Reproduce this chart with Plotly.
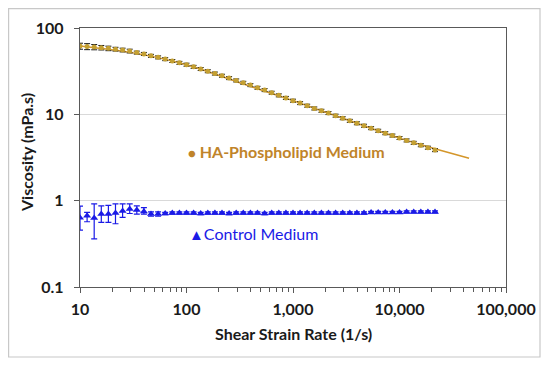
import plotly.graph_objects as go

# Shear strain rate (1/s)
shear = [10, 11.66, 13.59, 15.85, 18.48, 21.54, 25.12, 29.29, 34.15, 39.81,
         46.42, 54.12, 63.10, 73.56, 85.77, 100, 116.6, 135.9, 158.5, 184.8,
         215.4, 251.2, 292.9, 341.5, 398.1, 464.2, 541.2, 631.0, 735.6, 857.7,
         1000, 1166, 1359, 1585, 1848, 2154, 2512, 2929, 3415, 3981,
         4642, 5412, 6310, 7356, 8577, 10000, 11659, 13594, 15849, 18478, 21544]

# HA-Phospholipid medium viscosity (mPa.s)
ha_visc = [61.7, 61.0, 60.1, 59.2, 58.1, 56.9, 55.6, 54.1, 51.9, 50.1,
           47.6, 45.7, 43.6, 41.5, 39.5, 37.6, 35.5, 33.5, 31.6, 29.7,
           28.0, 26.3, 24.7, 23.2, 21.8, 20.3, 19.1, 17.8, 16.6, 15.5,
           14.4, 13.5, 12.6, 11.7, 11.0, 10.35, 9.66, 9.02, 8.41, 7.89,
           7.38, 6.92, 6.46, 6.05, 5.68, 5.32, 4.99, 4.68, 4.39, 4.11, 3.85]
ha_err_pct = [8, 8, 7, 6, 6, 5, 5, 5, 4, 4,
              4, 4, 4, 4, 4, 4, 4, 4, 4, 4,
              4, 4, 4, 4, 4, 4, 4, 4, 4, 4,
              4, 4, 4, 4, 4, 4, 4, 4, 4, 4,
              4, 4, 4, 4, 4, 4, 4, 4, 4, 4, 4]

# Fitted trend line for HA-Phospholipid medium
fit_shear = [10, 31.6, 100, 316, 1000, 3162, 10000, 20000, 45000]
fit_visc = [62.0, 51.5, 37.6, 23.2, 14.4, 8.7, 5.3, 4.1, 3.1]

# Control medium viscosity (mPa.s)
ctrl_visc = [0.635, 0.67, 0.63, 0.70, 0.70, 0.72, 0.76, 0.80, 0.78, 0.75,
             0.70, 0.70, 0.71, 0.72, 0.72, 0.72, 0.72, 0.71, 0.72, 0.72,
             0.72, 0.71, 0.72, 0.72, 0.72, 0.72, 0.71, 0.72, 0.72, 0.72,
             0.72, 0.72, 0.72, 0.72, 0.72, 0.72, 0.72, 0.72, 0.72, 0.72,
             0.72, 0.73, 0.73, 0.73, 0.73, 0.73, 0.74, 0.74, 0.74, 0.74, 0.74]
ctrl_err_plus = [0.23, 0.06, 0.29, 0.17, 0.18, 0.20, 0.16, 0.12, 0.09, 0.08,
                 0.04, 0.04] + [0.02] * 39
ctrl_err_minus = [0.18, 0.10, 0.27, 0.14, 0.14, 0.18, 0.12, 0.09, 0.08, 0.05,
                  0.04, 0.04] + [0.02] * 39

# Axis tick labels
x_tickvals = [10, 100, 1000, 10000, 100000]
x_ticktext = ["10", "100", "1,000", "10,000", "100,000"]
y_tickvals = [0.1, 1, 10, 100]
y_ticktext = ["0.1", "1", "10", "100"]

ha_err = [v * p / 100 for v, p in zip(ha_visc, ha_err_pct)]

FONT = "Lato"
HA_TEXT = "#C0842A"
HA_MARK = "#C4A032"
TREND = "#D4962A"
BLUE = "#1A1AE6"
DARK = "#1a1a1a"

# The page body has an 8px margin, so the figure starts at page (8, 8).
OFF = 8
W, H = 550 - OFF, 367 - OFF
# plot-area geometry in page pixels
L, R, T, B = 80, 506, 28, 287
PW, PH = R - L, B - T


def px(x):
    return (x - L) / PW


def py(y):
    return (B - y) / PH


fig = go.Figure()

fig.add_trace(go.Scatter(
    x=fit_shear, y=fit_visc, mode="lines",
    line=dict(color=TREND, width=1.5, shape="spline"),
    hoverinfo="skip", showlegend=False))

fig.add_trace(go.Scatter(
    x=shear, y=ha_visc, mode="markers",
    marker=dict(symbol="circle", size=5, color=HA_MARK),
    error_y=dict(type="data", array=ha_err, color=DARK, thickness=1, width=3),
    name="HA-Phospholipid Medium", showlegend=False))

fig.add_trace(go.Scatter(
    x=shear, y=ctrl_visc, mode="markers",
    marker=dict(symbol="triangle-up", size=7, color=BLUE),
    error_y=dict(type="data", symmetric=False, array=ctrl_err_plus,
                 arrayminus=ctrl_err_minus, color=BLUE, thickness=1.2, width=3),
    name="Control Medium", showlegend=False))

axis_common = dict(
    type="log", showline=True, linecolor="#595959", linewidth=1.3, mirror=True,
    ticks="outside", ticklen=5, tickcolor="#595959", automargin=False,
    tickfont=dict(family=FONT, size=16, color=DARK, weight="bold"),
    zeroline=False)

fig.update_xaxes(
    **axis_common, range=[1, 5], showgrid=False,
    tickvals=x_tickvals, ticktext=x_ticktext, ticklabelstandoff=3,
    minor=dict(ticks="outside", ticklen=4, tickcolor="#595959", dtick="D1", showgrid=False))

fig.update_yaxes(
    **axis_common, range=[-1, 2], showgrid=True, gridcolor="#D9D9D9", gridwidth=1,
    tickvals=y_tickvals, ticktext=y_ticktext, ticklabelstandoff=7)

# axis titles
fig.add_annotation(
    xref="paper", yref="paper", x=px(293), y=py(333),
    xanchor="center", yanchor="middle", showarrow=False,
    text="Shear Strain Rate (1/s)",
    font=dict(family=FONT, size=16, color=DARK, weight="bold"))
fig.add_annotation(
    xref="paper", yref="paper", x=px(26), y=py(153), textangle=-90,
    xanchor="center", yanchor="middle", showarrow=False,
    text="Viscosity (mPa.s)",
    font=dict(family=FONT, size=16, color=DARK, weight="bold"))

# in-plot series labels
fig.add_annotation(
    xref="paper", yref="paper", x=px(186), y=py(151),
    xanchor="left", yanchor="middle", showarrow=False,
    text="<span style='font-size:13px'>●</span> HA-Phospholipid Medium",
    font=dict(family=FONT, size=16, color=HA_TEXT, weight="bold"))

fig.add_annotation(
    xref="paper", yref="paper", x=px(187), y=py(233),
    xanchor="left", yanchor="middle", showarrow=False,
    text="<span style='font-size:15px'>▲</span>Control Medium",
    font=dict(family=FONT, size=16, color=BLUE))

# outer chart border
fig.add_shape(type="rect", xref="paper", yref="paper",
              x0=px(8.6), x1=px(540), y0=py(357), y1=py(8.6),
              line=dict(color="#C8C8C8", width=1.2), layer="below")

fig.update_layout(
    width=W, height=H,
    margin=dict(l=L - OFF, r=W - (R - OFF), t=T - OFF, b=H - (B - OFF)),
    paper_bgcolor="white", plot_bgcolor="white",
    font=dict(family=FONT))

fig.write_html("out.html")
